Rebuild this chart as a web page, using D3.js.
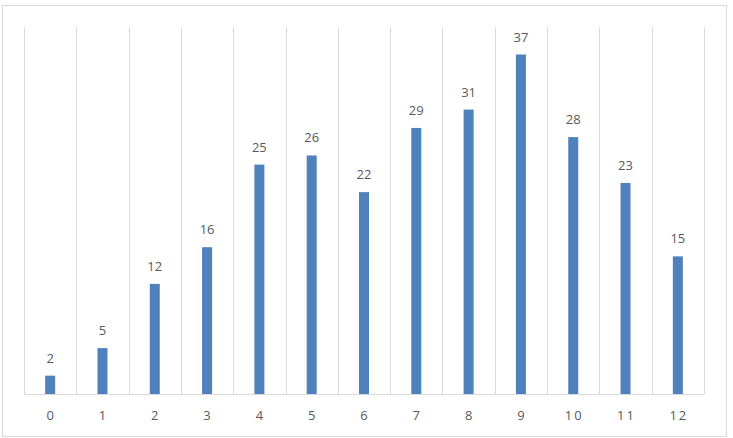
<!DOCTYPE html>
<html>
<head>
<meta charset="utf-8">
<script src="https://cdn.jsdelivr.net/npm/d3@7"></script>
<style>
body{margin:0;background:#fff;}
text{font-family:"Open Sans","Noto Sans","Liberation Sans",sans-serif;}
</style>
</head>
<body>
<div id="chart"></div>
<script>
const categories = ["0","1","2","3","4","5","6","7","8","9","10","11","12"];
const values = [2,5,12,16,25,26,22,29,31,37,28,23,15];

const W=733,H=438,M={top:27,right:29,bottom:44,left:24};
const svg=d3.select("#chart").append("svg").attr("width",W).attr("height",H);

// outer frame
svg.append("rect").attr("x",2.5).attr("y",5.5).attr("width",724).attr("height",431)
  .attr("fill","#fff").attr("stroke","#d9d9d9").attr("stroke-width",1);

const x=d3.scaleBand().domain(categories).range([M.left,W-M.right]).paddingInner(0).paddingOuter(0);
const y=d3.scaleLinear().domain([0,40]).range([H-M.bottom,M.top]);

// vertical gridlines at category boundaries
const bounds=categories.map(c=>x(c)).concat([x.range()[1]]);
svg.append("g").selectAll("line").data(bounds).join("line")
  .attr("x1",d=>Math.round(d)+0.5).attr("x2",d=>Math.round(d)+0.5)
  .attr("y1",y(40)).attr("y2",y(0))
  .attr("stroke","#d9d9d9").attr("stroke-width",1);

// baseline
svg.append("line").attr("x1",M.left).attr("x2",W-M.right)
  .attr("y1",Math.round(y(0))+0.5).attr("y2",Math.round(y(0))+0.5)
  .attr("stroke","#d9d9d9");

const bw=10;
svg.append("g").selectAll("rect").data(values).join("rect")
  .attr("x",(d,i)=>x(categories[i])+x.bandwidth()/2-bw/2)
  .attr("y",d=>y(d)).attr("width",bw).attr("height",d=>y(0)-y(d))
  .attr("fill","#4f81bd");

svg.append("g").selectAll("text").data(values).join("text")
  .attr("x",(d,i)=>x(categories[i])+x.bandwidth()/2)
  .attr("y",d=>y(d)-13).attr("text-anchor","middle")
  .attr("font-size",13).attr("fill","#595959").text(d=>d);

// x axis labels
svg.append("g").selectAll("text").data(categories).join("text")
  .attr("x",d=>x(d)+x.bandwidth()/2+(d.length>1?1:0)).attr("y",y(0)+26)
  .attr("text-anchor","middle").attr("font-size",13).attr("letter-spacing",d=>d.length>1?"2px":"0")
  .attr("fill","#595959").text(d=>d);
</script>
</body>
</html>
